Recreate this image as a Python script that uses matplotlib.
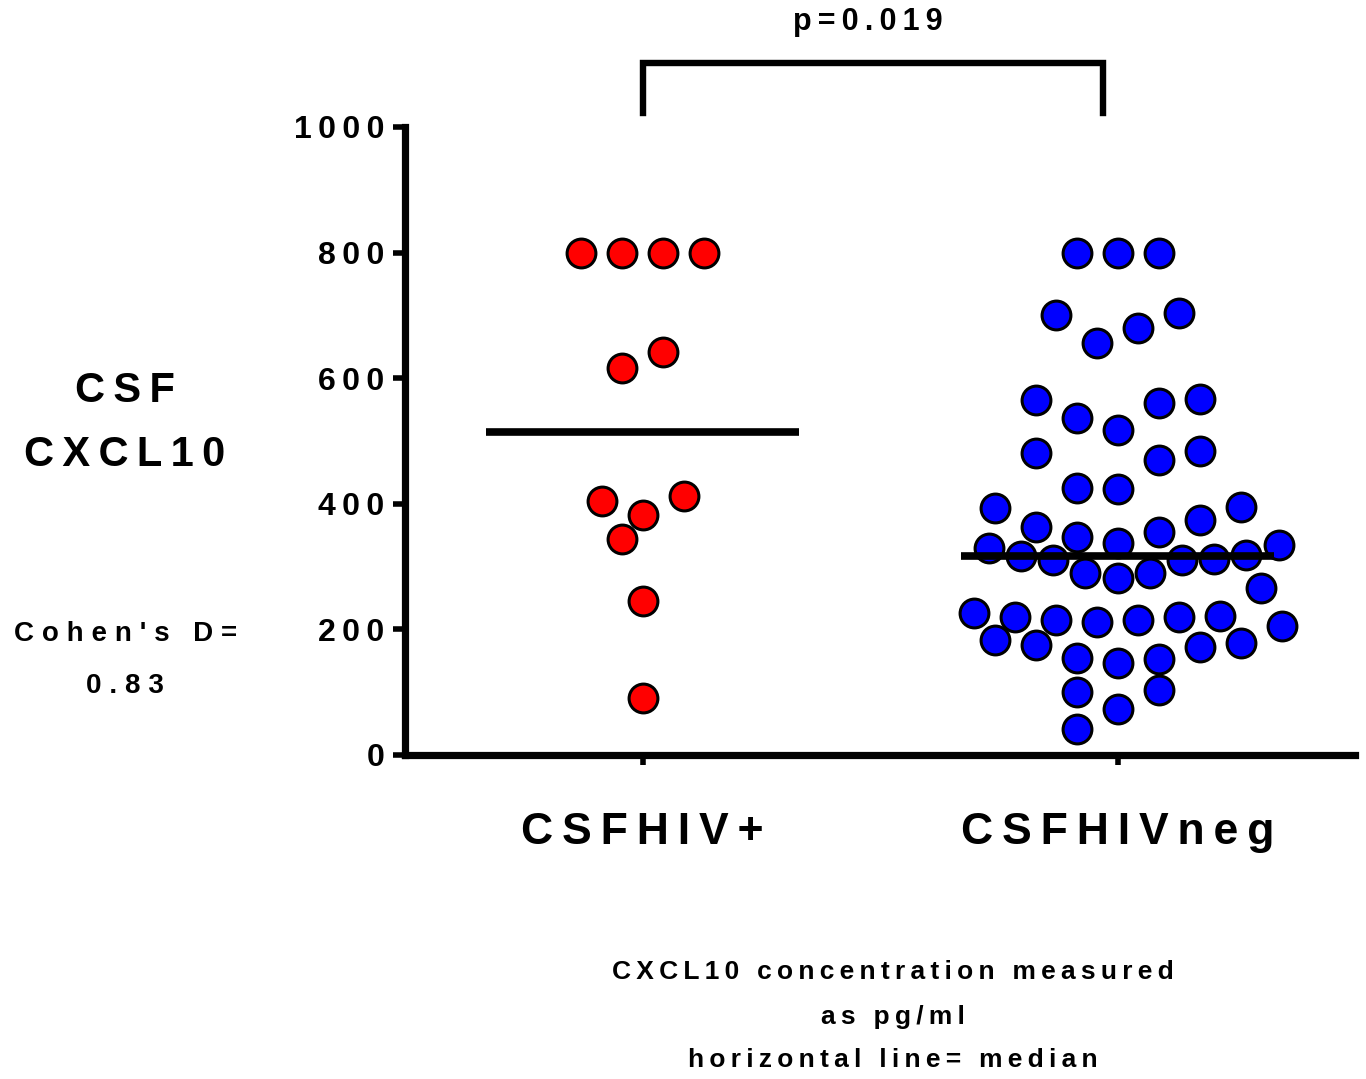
import matplotlib
matplotlib.use("Agg")
import matplotlib.pyplot as plt
import numpy as np

# values (pg/ml)
groups = ["CSFHIV+", "CSFHIVneg"]
colors = ["#FF0000", "#0000FF"]
hiv_pos = [800, 800, 800, 800, 642, 616, 412, 404, 382, 344, 245, 91]
hiv_neg = [800, 800, 800, 704, 701, 680, 656, 567, 565, 561, 537, 518,
           484, 481, 470, 425, 424, 395, 393, 374, 363, 355, 347, 338,
           334, 330, 318, 317, 312, 311, 311, 290, 290, 282, 266, 226,
           221, 220, 220, 215, 215, 212, 205, 183, 178, 175, 172, 154,
           153, 146, 104, 100, 73, 41]
yticks = [0, 200, 400, 600, 800, 1000]
p_text = "p=0.019"
cohen = ["Cohen's D=", "0.83"]
ylab = ["CSF", "CXCL10"]
note = ["CXCL10 concentration measured", "as pg/ml", "horizontal line= median"]

plt.rcParams['font.family'] = ['Liberation Sans', 'DejaVu Sans']
plt.rcParams['font.weight'] = 'bold'


def spaced(s, gap="\u2009"):
    return gap.join(list(s))


fig = plt.figure(figsize=(13.66, 10.79), dpi=100)
W, H = 1366, 1079
ax = fig.add_axes([405 / W, (H - 755) / H, 950 / W, 628 / H])
ax.set_xlim(-0.5, 1.5)
ax.set_ylim(0, 1000)

# px <-> data conversion for the swarm layout
ppx = 950 / 2.0     # px per x unit
ppy = 628 / 1000.0  # px per y unit


def swarm(vals, center, bin_w=60, step_px=41, max_px=290, dmin=29):
    vals = sorted(vals, reverse=True)
    rows, cur = [], []
    for v in vals:
        if cur and cur[0] - v > bin_w:
            rows.append(cur)
            cur = []
        cur.append(v)
    rows.append(cur)
    placed = []  # (x_px, y_px)
    xs, ys = [], []
    for row in rows:
        n = len(row)
        step = step_px if n < 2 else min(step_px, max_px / (n - 1))
        offs = [(i - (n - 1) / 2) * step for i in range(n)]
        order = sorted(range(n), key=lambda i: (abs(offs[i]), offs[i]))
        pts = [(offs[i], v * ppy) for v, i in zip(sorted(row), order)]
        # shift whole row sideways if it hits points already placed
        for sh in [0, -step / 2, step / 2, -step, step]:
            ok = all(np.hypot(px + sh - qx, py - qy) >= dmin
                     for px, py in pts for qx, qy in placed)
            if ok:
                break
        for px, py in pts:
            placed.append((px + sh, py))
            xs.append(center + (px + sh) / ppx)
            ys.append(py / ppy)
    return xs, ys


for i, (vals, c) in enumerate(zip([hiv_pos, hiv_neg], colors)):
    xs, ys = swarm(vals, i)
    ax.scatter(xs, ys, s=430, color=c, edgecolor="black", linewidths=2.2,
               zorder=3, clip_on=False)
    med = np.median(vals)
    ax.plot([i - 0.33, i + 0.33], [med, med], color="black", lw=5.5,
            zorder=4, solid_capstyle="butt")

# axes styling
for s in ["top", "right"]:
    ax.spines[s].set_visible(False)
for s in ["left", "bottom"]:
    ax.spines[s].set_linewidth(5.2)
    ax.spines[s].set_capstyle("projecting")
ax.spines["left"].set_bounds(0, 1000)

ax.set_yticks(yticks)
ax.set_yticklabels([spaced(str(t)) for t in yticks], fontsize=23,
                   fontweight="bold")
ax.tick_params(axis="y", length=9, width=4, pad=6)
ax.set_xticks([0, 1])
ax.set_xticklabels([spaced(g) for g in groups], fontsize=32,
                   fontweight="bold")
ax.tick_params(axis="x", length=7, width=4, pad=34)

# significance bracket
ax.plot([0, 0, 0.97, 0.97], [1022, 1102, 1102, 1022], color="black",
        lw=4.6, clip_on=False, solid_joinstyle="miter")
fig.text(868 / W, 1 - 22 / H, spaced(p_text), fontsize=22,
         fontweight="bold", ha="center", va="center")

# left side labels
fig.text(125 / W, 1 - 391 / H, spaced(ylab[0]), fontsize=30,
         fontweight="bold", ha="center", va="center")
fig.text(125 / W, 1 - 455 / H, spaced(ylab[1]), fontsize=30,
         fontweight="bold", ha="center", va="center")
fig.text(126 / W, 1 - 634 / H, spaced(cohen[0], "\u2009\u200a"), fontsize=20,
         fontweight="bold", ha="center", va="center")
fig.text(125 / W, 1 - 686 / H, spaced(cohen[1], "\u2009\u200a"), fontsize=20,
         fontweight="bold", ha="center", va="center")

# footnote
for t, y in zip(note, [972, 1017, 1060]):
    fig.text(893 / W, 1 - y / H, spaced(t), fontsize=19,
             fontweight="bold", ha="center", va="center")

fig.savefig("out.png", dpi=100, facecolor="white")
